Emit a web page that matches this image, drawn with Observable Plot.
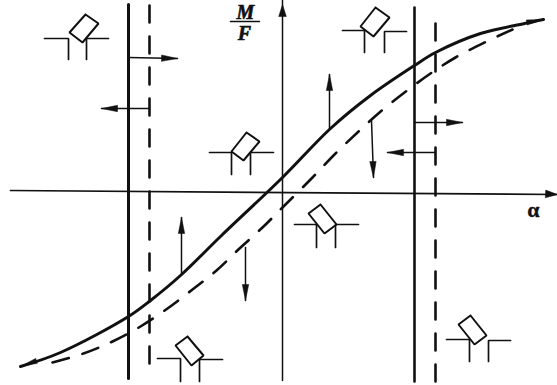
<!DOCTYPE html>
<html>
<head>
<meta charset="utf-8">
<script src="https://cdn.jsdelivr.net/npm/d3@7"></script>
<script src="https://cdn.jsdelivr.net/npm/@observablehq/plot@0.6"></script>
<style>html,body{margin:0;padding:0;background:#fff}svg{display:block}</style>
</head>
<body>
<div id="chart"></div>
<script>
// Schematic units: alpha (horizontal), M/F (vertical), origin at the axes' crossing
const solidCurve = [[-262,-176],[-222,-162],[-154,-126],[-132,-110],[-102,-85],[-62,-46],[0,13],[48,62],[88,95],[132,125],[153,138],[198,157],[242,167],[261,171]];
const dashedCurve = [[-230,-172],[-199,-163],[-170,-151],[-142,-136],[-115,-118],[-90,-99],[-66,-80],[-43,-58],[-20,-37],[0,-17],[30,13],[52,36],[75,58],[97,78],[122,98],[148,117],[173,133],[202,148],[230,161]];
const solidStalls = [[-154,186,-188],[132,183,-191]];
const dashedStalls = [[-133,185,-173],[153,167,-192]];
const verticalAxis = [[0,190],[0,-190]];
const horizontalAxis = [[-272,0],[275,-4]];
const arrows = [[-154,133,-105,132],[-133,82,-181,82],[-101,-83,-101,-27],[-37,-57,-37,-110],[47,62,47,116],[89,70,91,13],[132,68,180,68],[152,38,105,38]];
const curveEnds = [[-245,-170,-262,-176],[244,168,261,171]];
const axisEnds = [[0,170,0,186],[255,-3,275,-4]];
const plates = [
  [[-197,176],[-184,167],[-200,148],[-213,158]],
  [[-36,58],[-23,49],[-39,30],[-51,39]],
  [[93,183],[107,173],[91,154],[78,164]],
  [[-95,-146],[-79,-165],[-91,-175],[-107,-155]],
  [[38,-14],[54,-34],[42,-43],[26,-23]],
  [[188,-125],[204,-145],[192,-154],[176,-134]]
];
const channels = [
  [[-238,152],[-214,152],[-214,131]], [[-196,131],[-196,152],[-174,152]],
  [[-73,38],[-51,38],[-51,16]], [[-32,16],[-32,38],[-9,38]],
  [[60,160],[82,160],[82,138]], [[102,138],[102,159],[124,159]],
  [[-125,-168],[-102,-168],[-102,-191]], [[-83,-191],[-83,-169],[-60,-169]],
  [[12,-34],[34,-34],[34,-57]], [[53,-57],[53,-34],[76,-34]],
  [[164,-149],[187,-149],[187,-171]], [[206,-171],[206,-150],[228,-150]]
];
const fractionBar = [[-52,169],[-23,169]];
const ratioLabels = [
  {text:"M", x:-37, y:178},
  {text:"F", x:-38, y:157}
];
const angleLabel = [{text:"α", x:251, y:-19}];

function headPolygon([x1,y1,x2,y2], headLen, half) {
  const len = Math.hypot(x2-x1,y2-y1), ux=(x2-x1)/len, uy=(y2-y1)/len;
  const bx=x2-ux*headLen, by=y2-uy*headLen;
  return [[x2,y2],[bx-uy*half,by+ux*half],[bx+uy*half,by-ux*half],[x2,y2]];
}
const tag = (list) => list.flatMap((pts,i)=>pts.map(([x,y])=>({x,y,id:i})));
const heads = tag([
  ...arrows.map(a=>headPolygon(a,16,3.2)),
  ...curveEnds.map(a=>headPolygon(a,17,2.6)),
  ...axisEnds.map(a=>headPolygon(a,12,3.8))
]);
const shafts = tag(arrows.map(([a,b,c,d])=>[[a,b],[c,d]]));
const closedPlates = tag(plates.map(p=>[...p,p[0]]));
const vert = (list) => tag(list.map(([x,a,b])=>[[x,a],[x,b]]));

const plot = Plot.plot({
  width:557, height:385, margin:0,
  x:{domain:[-282,275], range:[0,557], axis:null},
  y:{domain:[-195,190], range:[385,0], axis:null},
  style:{background:"#fff"},
  marks:[
    Plot.line(verticalAxis,{x:d=>d[0],y:d=>d[1],stroke:"#111",strokeWidth:1.5}),
    Plot.line(horizontalAxis,{x:d=>d[0],y:d=>d[1],stroke:"#111",strokeWidth:1.7}),
    Plot.line(vert(solidStalls.slice(0,1)),{x:"x",y:"y",stroke:"#111",strokeWidth:3}),
    Plot.line(vert(solidStalls.slice(1)),{x:"x",y:"y",stroke:"#111",strokeWidth:2.6}),
    Plot.line(vert(dashedStalls),{x:"x",y:"y",z:"id",stroke:"#111",strokeWidth:2.6,strokeDasharray:"17 14"}),
    Plot.line(solidCurve,{x:d=>d[0],y:d=>d[1],curve:"catmull-rom",stroke:"#111",strokeWidth:3}),
    Plot.line(dashedCurve,{x:d=>d[0],y:d=>d[1],curve:"catmull-rom",stroke:"#111",strokeWidth:2.6,strokeDasharray:"17 14"}),
    Plot.line(shafts,{x:"x",y:"y",z:"id",stroke:"#111",strokeWidth:1.5}),
    Plot.line(heads,{x:"x",y:"y",z:"id",fill:"#111",stroke:"#111",strokeWidth:0.5}),
    Plot.line(closedPlates,{x:"x",y:"y",z:"id",stroke:"#111",strokeWidth:2,fill:"#fff",strokeLinejoin:"miter"}),
    Plot.line(tag(channels),{x:"x",y:"y",z:"id",stroke:"#111",strokeWidth:1.7,strokeLinejoin:"miter"}),
    Plot.line(fractionBar,{x:d=>d[0],y:d=>d[1],stroke:"#111",strokeWidth:1.5}),
    Plot.text(ratioLabels,{x:"x",y:"y",text:"text",fontFamily:"Liberation Serif",fontWeight:"bold",fontStyle:"italic",fontSize:20,fill:"#111",stroke:"#111",strokeWidth:0.6}),
    Plot.text(angleLabel,{x:"x",y:"y",text:"text",fontFamily:"Liberation Serif",fontWeight:"bold",fontSize:22,fill:"#111",stroke:"#111",strokeWidth:0.3})
  ]
});
document.getElementById("chart").append(plot);
</script>
</body>
</html>
